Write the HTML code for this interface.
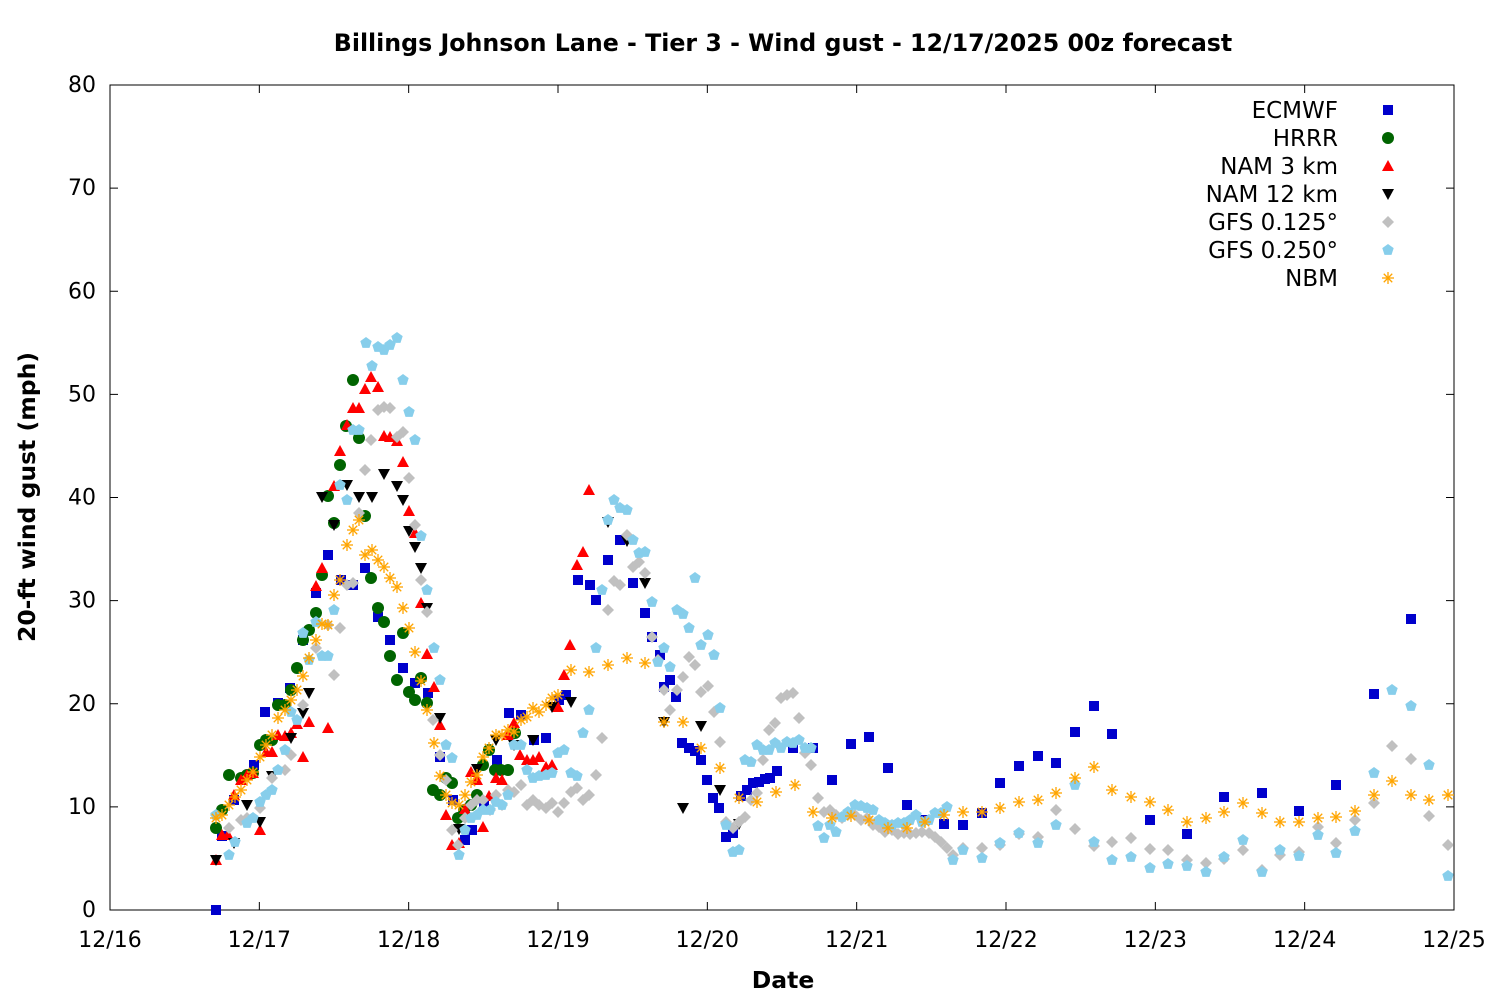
<!DOCTYPE html>
<html><head><meta charset="utf-8">
<style>body{margin:0;background:#fff}svg{display:block}</style></head>
<body>
<svg id="s" width="1500" height="1000" xmlns="http://www.w3.org/2000/svg" font-family="DejaVu Sans, Liberation Sans, sans-serif">
<rect width="1500" height="1000" fill="#fff"/>
<text x="783" y="51" text-anchor="middle" font-size="23.7" font-weight="bold">Billings Johnson Lane - Tier 3 - Wind gust - 12/17/2025 00z forecast</text>
<text transform="translate(35,497) rotate(-90)" text-anchor="middle" font-size="23.5" font-weight="bold">20-ft wind gust (mph)</text>
<text x="783" y="988" text-anchor="middle" font-size="23.5" font-weight="bold">Date</text>
<rect x="110" y="85" width="1344" height="825" fill="none" stroke="#000" stroke-width="1"/>
<g id="ax" font-size="22"></g>
<g id="pts"></g>
<g id="leg" font-size="23"></g>
</svg>
<script>
const NS="http://www.w3.org/2000/svg";
function el(t,a,p){const e=document.createElementNS(NS,t);for(const k in a)e.setAttribute(k,a[k]);p.appendChild(e);return e;}
const ax=document.getElementById('ax'),pts=document.getElementById('pts'),leg=document.getElementById('leg');
for(let v=0;v<=80;v+=10){const y=910-v*825/80;
 el('line',{x1:110,y1:y,x2:118,y2:y,stroke:'#000'},ax);el('line',{x1:1446,y1:y,x2:1454,y2:y,stroke:'#000'},ax);
 const t=el('text',{x:96,y:y+7,'text-anchor':'end'},ax);t.textContent=v;}
const days=['12/16','12/17','12/18','12/19','12/20','12/21','12/22','12/23','12/24','12/25'];
days.forEach((d,i)=>{const x=110+i*1344/9;
 el('line',{x1:x,y1:910,x2:x,y2:902,stroke:'#000'},ax);el('line',{x1:x,y1:85,x2:x,y2:93,stroke:'#000'},ax);
 const t=el('text',{x:x,y:947,'text-anchor':'middle'},ax);t.textContent=d;});
function mk(type,x,y,g){
 if(type=='sq')el('rect',{x:x-5,y:y-5,width:10,height:10,fill:'#0000cc'},g);
 else if(type=='ci')el('circle',{cx:x,cy:y,r:6,fill:'#006400'},g);
 else if(type=='up')el('polygon',{points:`${x-6},${y+5} ${x+6},${y+5} ${x},${y-6}`,fill:'#ff0000'},g);
 else if(type=='dn')el('polygon',{points:`${x-6},${y-5} ${x+6},${y-5} ${x},${y+6}`,fill:'#000'},g);
 else if(type=='di')el('polygon',{points:`${x},${y-6} ${x+6},${y} ${x},${y+6} ${x-6},${y}`,fill:'#c0c0c0'},g);
 else if(type=='pe'){let p=[];for(let i=0;i<5;i++){const a=-Math.PI/2+i*2*Math.PI/5;p.push((x+6*Math.cos(a)).toFixed(1)+','+(y+6*Math.sin(a)).toFixed(1));}el('polygon',{points:p.join(' '),fill:'#87ceeb'},g);}
 else if(type=='as'){for(let i=0;i<4;i++){const a=i*Math.PI/4;el('line',{x1:x-6*Math.cos(a),y1:y-6*Math.sin(a),x2:x+6*Math.cos(a),y2:y+6*Math.sin(a),stroke:'#ffa500','stroke-width':1.3},g);}}
}
function P(s){const a=s.trim().split(/;\s*/);return a.map(p=>p.split(',').map(Number));}
const S=[
['sq',`216,910; 222,836; 234,800; 254,765; 265,712; 278,703; 290,688; 303,640; 316,593; 328,555; 341,580; 353,585; 365,568; 378,617; 390,640; 403,668; 415,683; 428,693; 440,757; 453,800; 465,840; 472,830; 484,805; 497,760; 509,713; 521,715; 534,740; 546,738; 559,700; 566,695; 578,580; 590,585; 596,600; 608,560; 620,540; 633,583; 645,613; 652,637; 660,655; 664,687; 670,680; 676,697; 682,743; 689,748; 695,751; 701,760; 707,780; 713,798; 719,808; 726,837; 733,833; 741,796; 747,790; 753,783; 759,782; 765,779; 770,778; 777,771; 793,748; 813,748; 832,780; 851,744; 869,737; 888,768; 907,805; 925,820; 944,824; 963,825; 982,813; 1000,783; 1019,766; 1038,756; 1056,763; 1075,732; 1094,706; 1112,734; 1150,820; 1187,834; 1224,797; 1262,793; 1299,811; 1336,785; 1374,694; 1411,619`],
['ci',`216,828; 222,810; 229,775; 241,778; 247,775; 253,773; 260,745; 266,740; 272,740; 278,705; 285,705; 291,690; 297,668; 303,640; 309,630; 316,613; 322,575; 328,496; 334,523; 340,465; 346,426; 353,380; 359,438; 365,516; 371,578; 378,608; 384,622; 390,656; 397,680; 403,633; 409,692; 415,700; 421,678; 427,703; 433,790; 440,795; 446,778; 452,783; 458,818; 464,810; 471,805; 477,795; 483,765; 489,750; 495,770; 501,770; 508,770; 515,733`],
['up',`216,860; 222,835; 228,835; 234,795; 241,780; 247,775; 253,773; 260,830; 266,752; 272,752; 278,735; 285,736; 291,733; 297,724; 303,757; 309,722; 316,586; 322,568; 328,728; 334,486; 340,451; 347,425; 353,408; 359,408; 365,389; 371,377; 378,387; 384,436; 390,437; 397,441; 403,462; 409,511; 415,533; 421,603; 427,654; 434,687; 440,725; 446,815; 452,845; 459,843; 465,809; 471,772; 477,780; 483,827; 489,796; 496,778; 502,780; 508,735; 514,723; 520,755; 527,760; 533,760; 539,757; 546,767; 552,765; 558,707; 564,675; 570,645; 577,565; 583,552; 589,490`],
['dn',`216,860; 234,843; 247,805; 260,822; 272,776; 291,738; 303,713; 309,693; 322,497; 334,525; 347,485; 359,497; 372,497; 384,474; 397,486; 403,500; 409,531; 415,547; 421,568; 427,608; 440,718; 459,829; 477,769; 496,740; 514,745; 533,740; 552,707; 571,702; 608,522; 627,541; 645,583; 664,722; 683,808; 701,726; 720,790; 739,824`],
['di',`216,815; 229,828; 241,820; 247,818; 260,808; 272,778; 285,770; 291,755; 303,705; 316,648; 328,625; 334,675; 340,628; 347,585; 353,583; 359,513; 365,470; 371,440; 378,410; 384,407; 390,408; 397,437; 403,432; 409,478; 415,525; 421,580; 427,612; 433,720; 440,755; 446,780; 452,830; 458,845; 465,818; 471,805; 477,800; 483,800; 490,810; 496,795; 502,805; 508,790; 514,792; 521,785; 527,805; 533,800; 539,805; 546,808; 552,803; 558,812; 564,803; 571,792; 577,788; 583,800; 589,795; 596,775; 602,738; 608,610; 614,581; 620,585; 627,535; 633,567; 639,562; 645,573; 652,637; 658,660; 664,690; 670,710; 677,690; 683,677; 689,657; 695,665; 701,692; 708,686; 714,712; 720,742; 726,822; 733,828; 739,822; 745,817; 751,800; 757,793; 763,760; 769,730; 775,723; 781,698; 787,695; 793,693; 799,718; 805,753; 811,765; 818,798; 824,812; 830,810; 836,815; 842,818; 848,815; 855,815; 861,820; 867,818; 873,825; 879,827; 885,832; 892,830; 898,834; 904,833; 910,834; 916,833; 922,832; 929,833; 935,837; 941,842; 947,848; 953,855; 963,848; 982,848; 1000,845; 1019,834; 1038,837; 1056,810; 1075,829; 1094,846; 1112,842; 1131,838; 1150,849; 1168,850; 1187,860; 1206,863; 1224,859; 1243,850; 1262,870; 1280,855; 1299,852; 1318,827; 1336,843; 1355,820; 1374,803; 1392,746; 1411,759; 1429,816; 1448,845`],
['pe',`216,815; 229,855; 235,842; 247,823; 253,818; 260,802; 266,795; 272,790; 278,770; 285,750; 291,712; 297,720; 303,633; 309,660; 316,622; 322,656; 328,656; 334,610; 340,485; 347,500; 353,430; 359,430; 366,343; 372,366; 378,347; 384,350; 390,345; 397,338; 403,380; 409,412; 415,440; 421,536; 427,590; 434,648; 440,680; 446,745; 452,758; 459,855; 465,830; 471,818; 477,815; 483,810; 490,810; 496,802; 502,805; 508,795; 514,745; 521,745; 527,770; 533,778; 539,776; 546,775; 552,773; 558,753; 564,750; 571,773; 577,776; 583,733; 589,710; 596,648; 602,590; 608,520; 614,500; 620,508; 627,510; 633,540; 639,553; 645,552; 652,602; 658,662; 664,648; 670,667; 677,610; 683,614; 689,628; 695,578; 701,645; 708,635; 714,655; 720,708; 726,825; 733,852; 739,850; 745,760; 751,762; 757,745; 763,750; 769,750; 775,743; 781,748; 787,742; 793,743; 799,740; 805,748; 811,748; 818,826; 824,838; 830,825; 836,832; 842,817; 848,812; 855,805; 861,806; 867,808; 873,810; 879,820; 885,823; 892,825; 898,823; 904,823; 910,820; 916,815; 922,822; 929,820; 935,813; 941,813; 947,807; 953,860; 963,850; 982,858; 1000,843; 1019,833; 1038,843; 1056,825; 1075,785; 1094,842; 1112,860; 1131,857; 1150,868; 1168,864; 1187,866; 1206,872; 1224,857; 1243,840; 1262,872; 1280,850; 1299,856; 1318,835; 1336,853; 1355,831; 1374,773; 1392,690; 1411,706; 1429,765; 1448,876`],
['as',`216,818; 222,815; 229,805; 235,797; 241,790; 247,780; 253,772; 260,757; 266,745; 272,735; 278,718; 285,710; 291,700; 297,690; 303,676; 309,658; 316,640; 322,624; 328,625; 334,595; 340,580; 347,545; 353,530; 359,520; 365,555; 372,550; 378,560; 384,567; 390,578; 397,587; 403,608; 409,628; 415,652; 421,681; 427,710; 434,743; 440,776; 446,795; 452,803; 459,805; 465,795; 471,782; 477,775; 483,757; 489,748; 496,735; 502,735; 508,730; 514,732; 521,720; 527,717; 533,708; 539,712; 546,705; 552,698; 558,695; 571,670; 589,672; 608,665; 627,658; 645,663; 664,722; 683,722; 701,748; 720,768; 739,798; 757,802; 776,792; 795,785; 813,812; 832,818; 851,816; 869,820; 888,828; 907,828; 925,822; 944,815; 963,812; 982,812; 1000,808; 1019,802; 1038,800; 1056,793; 1075,778; 1094,767; 1112,790; 1131,797; 1150,802; 1168,810; 1187,822; 1206,818; 1224,812; 1243,803; 1262,813; 1280,822; 1299,822; 1318,818; 1336,817; 1355,811; 1374,795; 1392,781; 1411,795; 1429,800; 1448,795`]
];
const names=['ECMWF','HRRR','NAM 3 km','NAM 12 km','GFS 0.125°','GFS 0.250°','NBM'];
S.forEach((s,i)=>{const g=el('g',{},pts);P(s[1]).forEach(p=>mk(s[0],p[0],p[1],g));
 const y=110+i*28;const t=el('text',{x:1338,y:y+8,'text-anchor':'end'},leg);t.textContent=names[i];mk(s[0],1388,y,leg);});
</script>
</body></html>
